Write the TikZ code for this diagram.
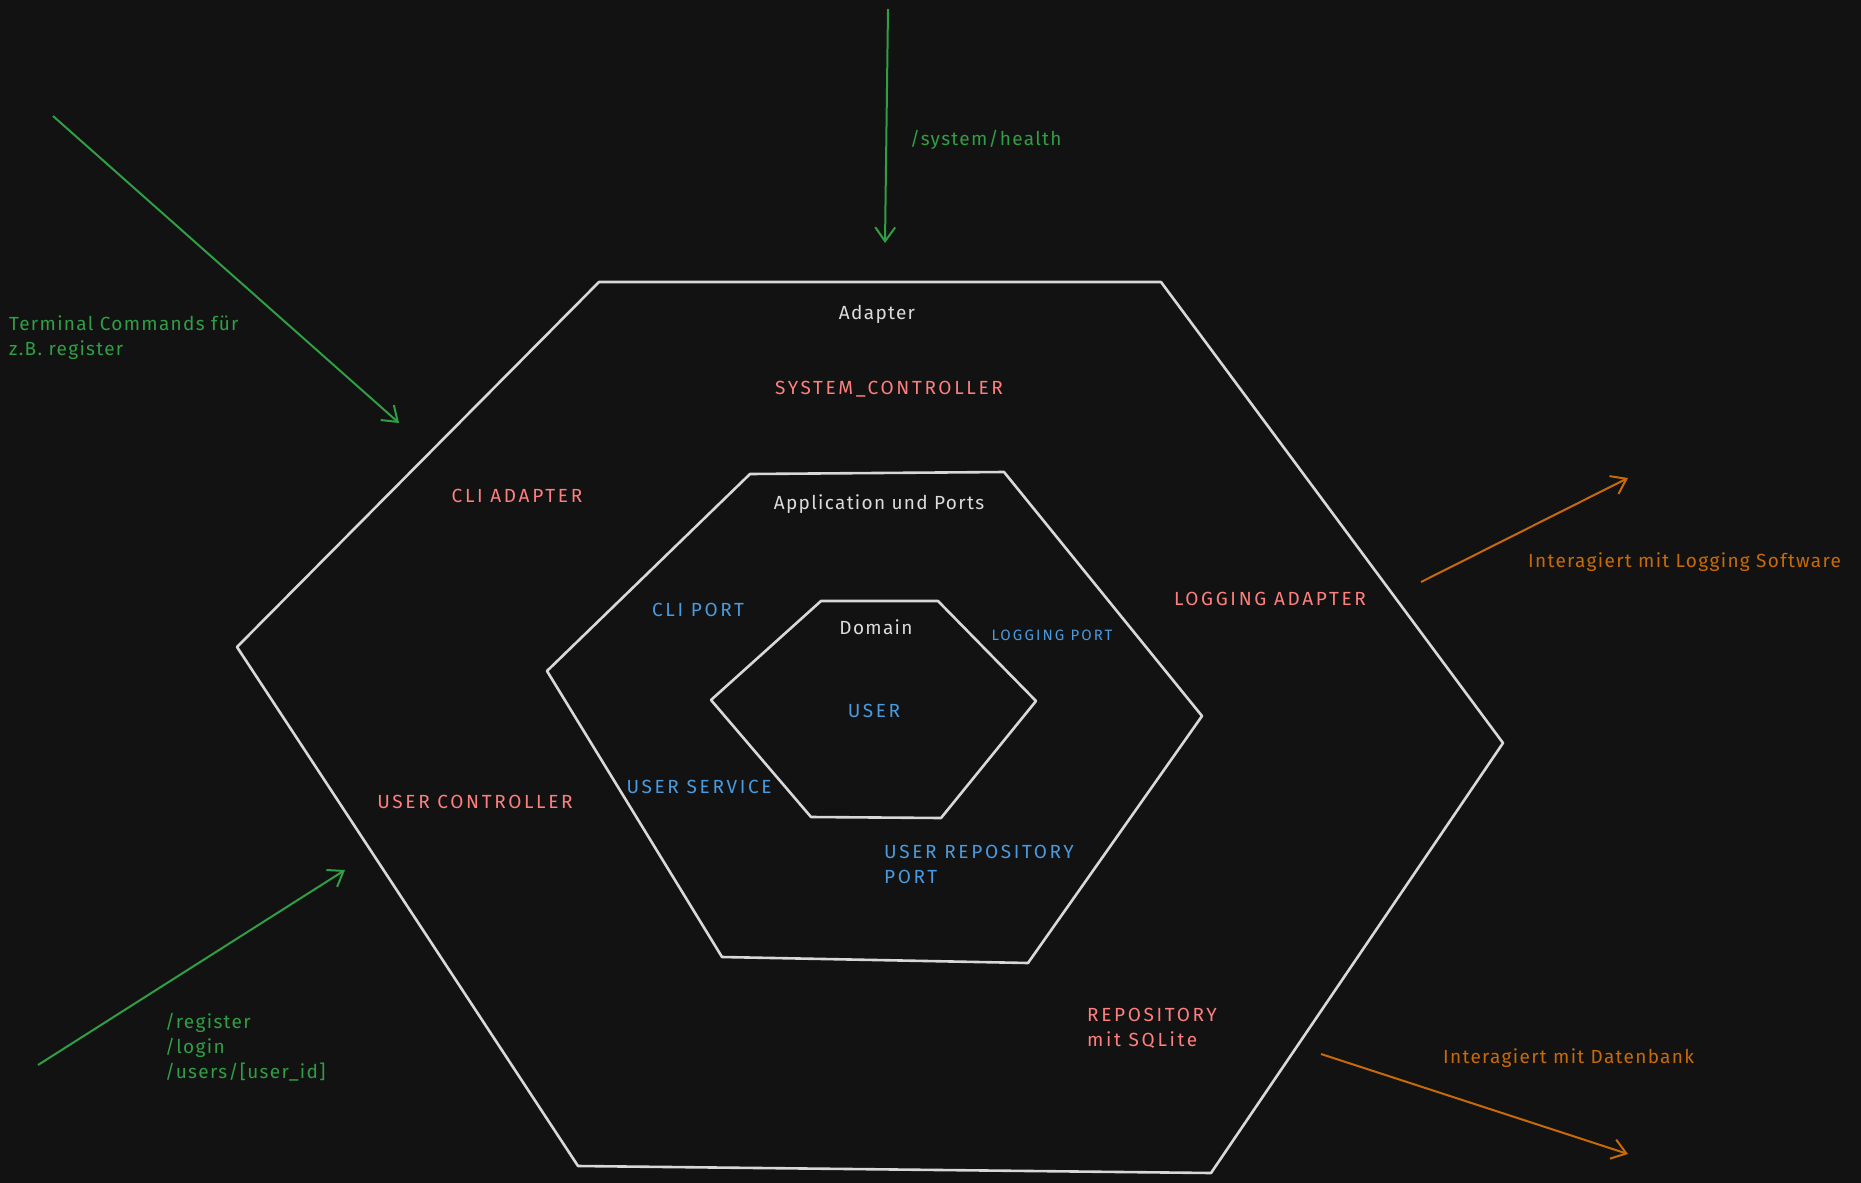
\documentclass[tikz,border=0pt]{standalone}
\usepackage{fontspec}
\setmainfont[LetterSpace=7]{Fira Sans}
\newfontfamily\capsfont[LetterSpace=14]{Fira Sans}
\usepackage{xcolor}
\usetikzlibrary{arrows.meta,positioning,calc}

\definecolor{bgdark}{HTML}{121212}
\definecolor{hexline}{HTML}{D8D8D8}
\definecolor{arrgreen}{HTML}{2F9E44}
\definecolor{arrorange}{HTML}{C86A08}
\definecolor{txtred}{HTML}{FF7F7F}
\definecolor{txtblue}{HTML}{4A9AE0}
\definecolor{txtwhite}{HTML}{DCDCDC}

\begin{document}
\begin{tikzpicture}[x=1pt,y=-1pt,
    hexa/.style={draw=hexline,line width=2.6pt,line join=round},
    flow/.style={line width=2pt,-{Straight Barb[length=14pt,width=20pt,line width=2pt]}},
    lbl/.style={inner sep=0pt,font=\fontsize{19}{25}\selectfont,align=left},
    capslbl/.style={inner sep=0pt,font=\capsfont\fontsize{19}{25}\selectfont,align=left},
    adapterlbl/.style={capslbl,text=txtred},
    portlbl/.style={capslbl,text=txtblue},
    layerlbl/.style={lbl,text=txtwhite}]
  \fill[bgdark] (0,0) rectangle (1861,1183);
  \useasboundingbox (0,0) rectangle (1861,1183);

  % the three layers
  \draw[hexa] (599,282) -- (1161,282) -- (1503,743) -- (1211,1173)
    -- (578,1166) -- (237,647) -- cycle;
  \draw[hexa] (750,474) -- (1004,472) -- (1202,716) -- (1028,963)
    -- (722,957) -- (547,671) -- cycle;
  \draw[hexa] (821,601) -- (938,601) -- (1036,701) -- (941,818)
    -- (811,817) -- (711,700) -- cycle;

  % layer names
  \node[layerlbl] (adapter) at (877,314) {Adapter};
  \node[layerlbl] (app) at (879,504) {Application und Ports};
  \node[layerlbl] (domain) at (876,627) {Domain};

  % adapters
  \node[adapterlbl] (sysctrl) at (889,389) {SYSTEM\_CONTROLLER};
  \node[adapterlbl] (cliadapter) at (517,496) {CLI ADAPTER};
  \node[adapterlbl] (logadapter) at (1270,599) {LOGGING ADAPTER};
  \node[adapterlbl] (userctrl) at (475,802) {USER CONTROLLER};
  \node[adapterlbl,anchor=north west] (repo) at (1087,1008) {REPOSITORY\\mit SQLite};

  % ports and services
  \node[portlbl] (cliport) at (698,610) {CLI PORT};
  \node[portlbl,font=\capsfont\fontsize{15}{18}\selectfont] (logport) at (1052,635) {LOGGING PORT};
  \node[portlbl] (user) at (874,711) {USER};
  \node[portlbl] (usersvc) at (699,787) {USER SERVICE};
  \node[portlbl,anchor=north west] (repoport) at (884,845) {USER REPOSITORY\\PORT};

  % outside actors
  \node[lbl,text=arrgreen,anchor=north west] (terminal) at (9,315) {Terminal Commands für\\z.B. register};
  \node[lbl,text=arrgreen,anchor=west] (health) at (910,140) {/system/health};
  \node[lbl,text=arrgreen,anchor=north west] (routes) at (165,1013) {/register\\/login\\/users/[user\_id]};
  \node[lbl,text=arrorange,anchor=west] (logsw) at (1528,562) {Interagiert mit Logging Software};
  \node[lbl,text=arrorange,anchor=west] (db) at (1443,1058) {Interagiert mit Datenbank};

  \coordinate (termS) at (53,116);   \coordinate (termE) at (399,423);
  \coordinate (healthS) at (888,9);  \coordinate (healthE) at (885,243);
  \coordinate (routeS) at (38,1065); \coordinate (routeE) at (345,870);
  \coordinate (logS) at (1421,582);  \coordinate (logE) at (1628,478);
  \coordinate (dbS) at (1321,1054);  \coordinate (dbE) at (1628,1154);

  \draw[flow,arrgreen] (termS) -- (termE);
  \draw[flow,arrgreen] (healthS) -- (healthE);
  \draw[flow,arrgreen] (routeS) -- (routeE);
  \draw[flow,arrorange] (logS) -- (logE);
  \draw[flow,arrorange] (dbS) -- (dbE);
\end{tikzpicture}
\end{document}
